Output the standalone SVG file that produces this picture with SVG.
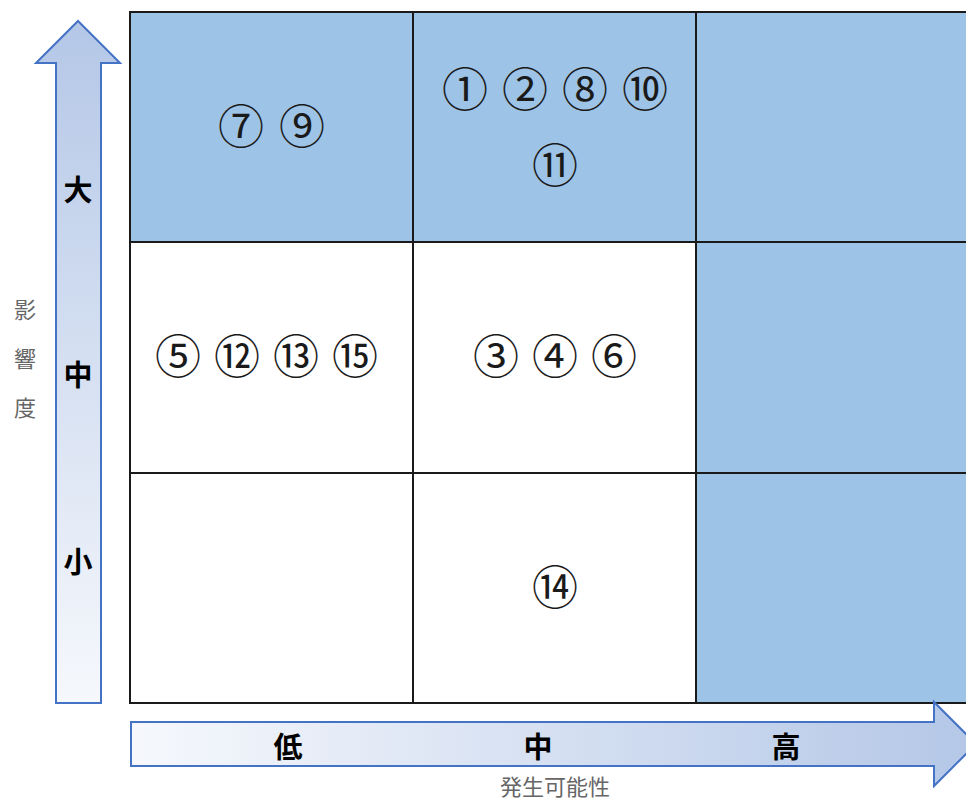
<svg xmlns="http://www.w3.org/2000/svg" width="966" height="800" viewBox="0 0 966 800">
<defs>
<linearGradient id="gv" x1="0" y1="0" x2="0" y2="1">
<stop offset="0" stop-color="#b4c7e7"/>
<stop offset="1" stop-color="#f6f8fc"/>
</linearGradient>
<linearGradient id="gh" x1="0" y1="0" x2="1" y2="0">
<stop offset="0" stop-color="#f6f8fc"/>
<stop offset="1" stop-color="#b4c7e7"/>
</linearGradient>
<style>
.cell{stroke:#1a1a1a;stroke-width:2}
.blue{fill:#9dc3e6}
.white{fill:#ffffff}
.arrow{stroke:#4472c4;stroke-width:2;stroke-linejoin:miter}
.num{font-family:"Noto Sans CJK JP","Noto Sans CJK SC",sans-serif;font-size:46px;fill:#1a1a1a;text-anchor:middle;dominant-baseline:central}
.ax{font-family:"Noto Sans CJK JP",sans-serif;font-size:29px;font-weight:bold;fill:#000;text-anchor:middle;dominant-baseline:central}
.lbl{font-family:"Noto Sans CJK JP",sans-serif;font-size:22px;fill:#666;text-anchor:middle;dominant-baseline:central}
</style>
</defs>
<rect width="966" height="800" fill="#ffffff"/>
<g id="grid">
<g id="c11"><rect class="cell blue" x="130" y="12" width="283" height="230"/></g>
<g id="c12"><rect class="cell blue" x="413" y="12" width="283" height="230"/></g>
<g id="c13"><rect class="cell blue" x="696" y="12" width="290" height="230"/></g>
<g id="c21"><rect class="cell white" x="130" y="242" width="283" height="231"/></g>
<g id="c22"><rect class="cell white" x="413" y="242" width="283" height="231"/></g>
<g id="c23"><rect class="cell blue" x="696" y="242" width="290" height="231"/></g>
<g id="c31"><rect class="cell white" x="130" y="473" width="283" height="230"/></g>
<g id="c32"><rect class="cell white" x="413" y="473" width="283" height="230"/></g>
<g id="c33"><rect class="cell blue" x="696" y="473" width="290" height="230"/></g>
</g>
<g id="items">
<text class="num" x="241 302" y="123">⑦⑨</text>
<text class="num" x="465 525 585 645" y="86">①②⑧⑩</text>
<text class="num" x="555" y="162">⑪</text>
<text class="num" x="178 237 296 355" y="353">⑤⑫⑬⑮</text>
<text class="num" x="496 555 614" y="353">③④⑥</text>
<text class="num" x="555" y="584">⑭</text>
</g>
<g id="connectors">
<g id="yaxis">
<polygon class="arrow" fill="url(#gv)" points="56,703 56,63 36,63 78,21 120,63 101,63 101,703"/>
<text class="ax" x="78" y="188">大</text>
<text class="ax" x="78" y="373">中</text>
<text class="ax" x="78" y="560">小</text>
</g>
<g id="xaxis">
<polygon class="arrow" fill="url(#gh)" points="131,722 934,722 934,702 976,744 934,786 934,766 131,766"/>
<text class="ax" x="288" y="745">低</text>
<text class="ax" x="538" y="745">中</text>
<text class="ax" x="786" y="745">高</text>
</g>
</g>
<g id="labels">
<text class="lbl" x="25" y="308">影</text>
<text class="lbl" x="25" y="357">響</text>
<text class="lbl" x="25" y="406">度</text>
<text class="lbl" x="555" y="785">発生可能性</text>
</g>
</svg>
